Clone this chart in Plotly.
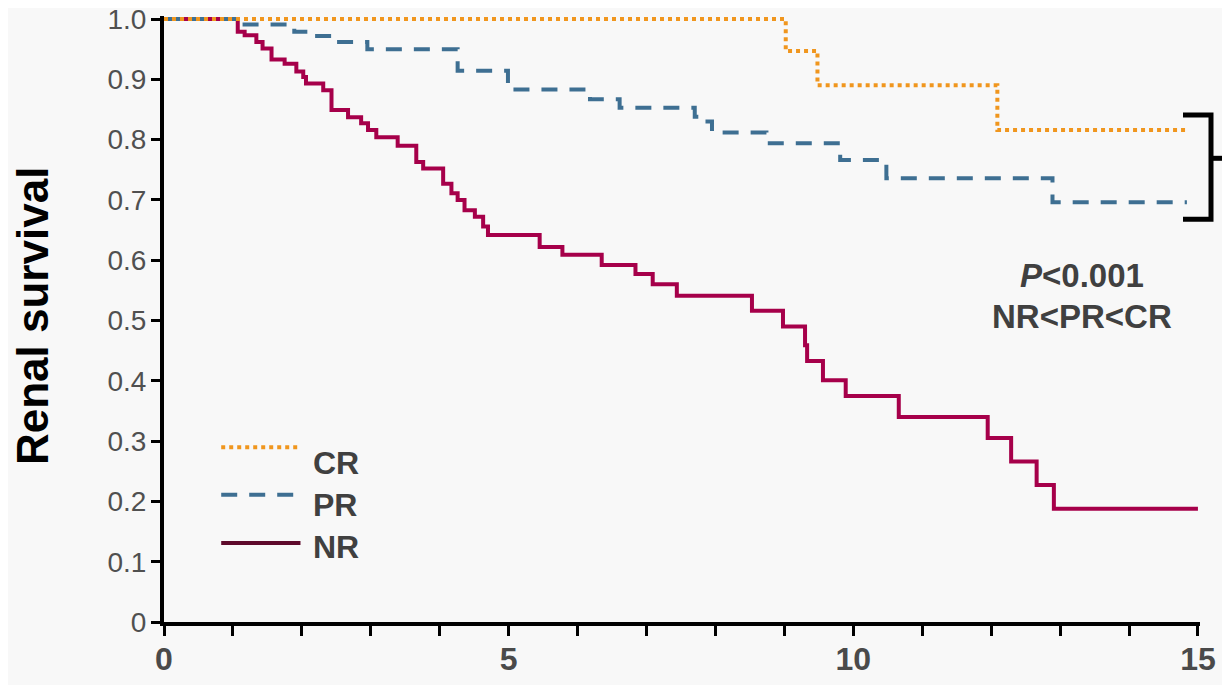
import plotly.graph_objects as go

# ---- data ----
cr_time = [0, 9.02, 9.48, 12.09, 14.84]
cr_surv = [1.000, 0.947, 0.890, 0.816, 0.814]

pr_time = [0, 1.07, 1.89, 2.11, 2.47, 2.95, 4.26, 4.99, 6.18, 6.61, 7.70, 7.85, 7.95,
           8.74, 9.81, 10.48, 12.89, 14.84]
pr_surv = [1.000, 0.991, 0.979, 0.972, 0.962, 0.950, 0.914, 0.883, 0.867, 0.853, 0.838,
           0.830, 0.812, 0.794, 0.766, 0.736, 0.696, 0.696]

nr_time = [0, 1.07, 1.17, 1.34, 1.43, 1.56, 1.75, 1.92, 2.02, 2.06, 2.31, 2.43, 2.67,
           2.86, 2.96, 3.08, 3.39, 3.66, 3.76, 4.05, 4.17, 4.26, 4.36, 4.51, 4.63, 4.70,
           5.45, 5.78, 6.35, 6.84, 7.09, 7.44, 8.53, 8.98, 9.30, 9.33, 9.56, 9.89, 10.66,
           11.95, 12.29, 12.66, 12.91, 15.0]
nr_surv = [1.000, 0.979, 0.973, 0.962, 0.951, 0.933, 0.926, 0.913, 0.904, 0.893, 0.882,
           0.849, 0.837, 0.827, 0.816, 0.804, 0.790, 0.763, 0.752, 0.727, 0.711, 0.700,
           0.683, 0.672, 0.656, 0.642, 0.622, 0.609, 0.592, 0.577, 0.560, 0.541, 0.516,
           0.490, 0.459, 0.433, 0.401, 0.375, 0.340, 0.305, 0.266, 0.227, 0.188, 0.188]

groups = ["CR", "PR", "NR"]
y_ticks = [0, 0.1, 0.2, 0.3, 0.4, 0.5, 0.6, 0.7, 0.8, 0.9, 1.0]
y_labels = ["0", "0.1", "0.2", "0.3", "0.4", "0.5", "0.6", "0.7", "0.8", "0.9", "1.0"]
x_ticks = list(range(0, 16))
x_labels = ["0", "", "", "", "", "5", "", "", "", "", "10", "", "", "", "", "15"]
p_text = ["<i>P</i>&lt;0.001", "NR&lt;PR&lt;CR"]

# ---- styles ----
ORANGE = "#F0961E"
BLUE = "#3E6F92"
MAROON = "#A6004A"
MAROON_LEG = "#5E0A2B"
BG = "#F8F8F8"
TXT = "#404040"
LW = 4

fig = go.Figure()
fig.add_trace(go.Scatter(x=nr_time, y=nr_surv, mode="lines", line_shape="hv",
                         line=dict(color=MAROON, width=LW), name="NR", showlegend=False))
fig.add_trace(go.Scatter(x=pr_time, y=pr_surv, mode="lines", line_shape="hv",
                         line=dict(color=BLUE, width=LW, dash="16px,12px"), name="PR",
                         showlegend=False))
fig.add_trace(go.Scatter(x=cr_time, y=cr_surv, mode="lines", line_shape="hv",
                         line=dict(color=ORANGE, width=LW, dash="4px,4px"), name="CR",
                         showlegend=False))

Y_MAX = 1.005
fig.update_layout(
    width=1222, height=677,
    margin=dict(l=156, r=30, t=8, b=63, autoexpand=False),
    paper_bgcolor=BG, plot_bgcolor=BG,
    xaxis=dict(range=[0, 15.03], showgrid=False, zeroline=False, showline=True,
               automargin=False, ticklabeloverflow="allow",
               linecolor="black", linewidth=4, ticks="outside", ticklen=10,
               tickwidth=3, tickcolor="black", tickvals=x_ticks, ticktext=x_labels,
               tickfont=dict(family="Liberation Sans Narrow, Arial Narrow, Liberation Sans",
                             size=32, color="#4A4A4A", weight="bold"),
               ticklabelstandoff=-4),
    yaxis=dict(range=[0, Y_MAX], showgrid=False, zeroline=False, showline=True,
               automargin=False, ticklabeloverflow="allow",
               linecolor="black", linewidth=4, ticks="outside", ticklen=9,
               tickwidth=3, tickcolor="black", tickvals=y_ticks, ticktext=y_labels,
               tickfont=dict(family="Liberation Sans, Arial", size=28, color="#505050"),
               ticklabelstandoff=-1),
)

# y-axis title
fig.add_annotation(text="Renal survival", textangle=-90, xref="paper", yref="paper",
                   x=-0.1264, y=0.505, xanchor="center", yanchor="middle", showarrow=False,
                   font=dict(family="Liberation Sans, Arial", size=44, color="black",
                             weight="bold"))

# legend (manual, long line samples)
leg_styles = {"CR": dict(color=ORANGE, width=LW, dash="4px,4px"),
              "PR": dict(color=BLUE, width=LW, dash="16px,12px"),
              "NR": dict(color=MAROON_LEG, width=LW)}
leg_line_y = [0.290, 0.211, 0.131]
leg_text_y = [0.263, 0.194, 0.124]
for g, ly, ty in zip(groups, leg_line_y, leg_text_y):
    fig.add_shape(type="line", xref="x", yref="y", x0=0.83, x1=1.98, y0=ly, y1=ly,
                  line=leg_styles[g])
    fig.add_annotation(text=g, xref="x", yref="y", x=2.13, y=ty, xanchor="left",
                       yanchor="middle", showarrow=False,
                       font=dict(family="Liberation Sans, Arial", size=32, color=TXT,
                                 weight="bold"))

# P-value text
for t, yy in zip(p_text, [0.575, 0.506]):
    fig.add_annotation(text=t, xref="x", yref="y", x=13.32, y=yy, xanchor="center",
                       yanchor="middle", showarrow=False,
                       font=dict(family="Liberation Sans, Arial", size=33, color=TXT,
                                 weight="bold"))

# bracket (paper coords)
def px2paper_x(px):
    return (px - 164) / 1036.0

def val2paper_y(v):
    return v / Y_MAX

bx1, bx2, bx3 = px2paper_x(1183), px2paper_x(1211), px2paper_x(1232)
bt, bb, bm = val2paper_y(0.841), val2paper_y(0.668), val2paper_y(0.769)
fig.add_shape(type="path", xref="paper", yref="paper",
              path=f"M {bx1},{bt} L {bx2},{bt} L {bx2},{bb} L {bx1},{bb}",
              line=dict(color="black", width=5))
fig.add_shape(type="line", xref="paper", yref="paper", x0=bx2, x1=bx3, y0=bm, y1=bm,
              line=dict(color="black", width=5))

fig.write_html("out.html")
